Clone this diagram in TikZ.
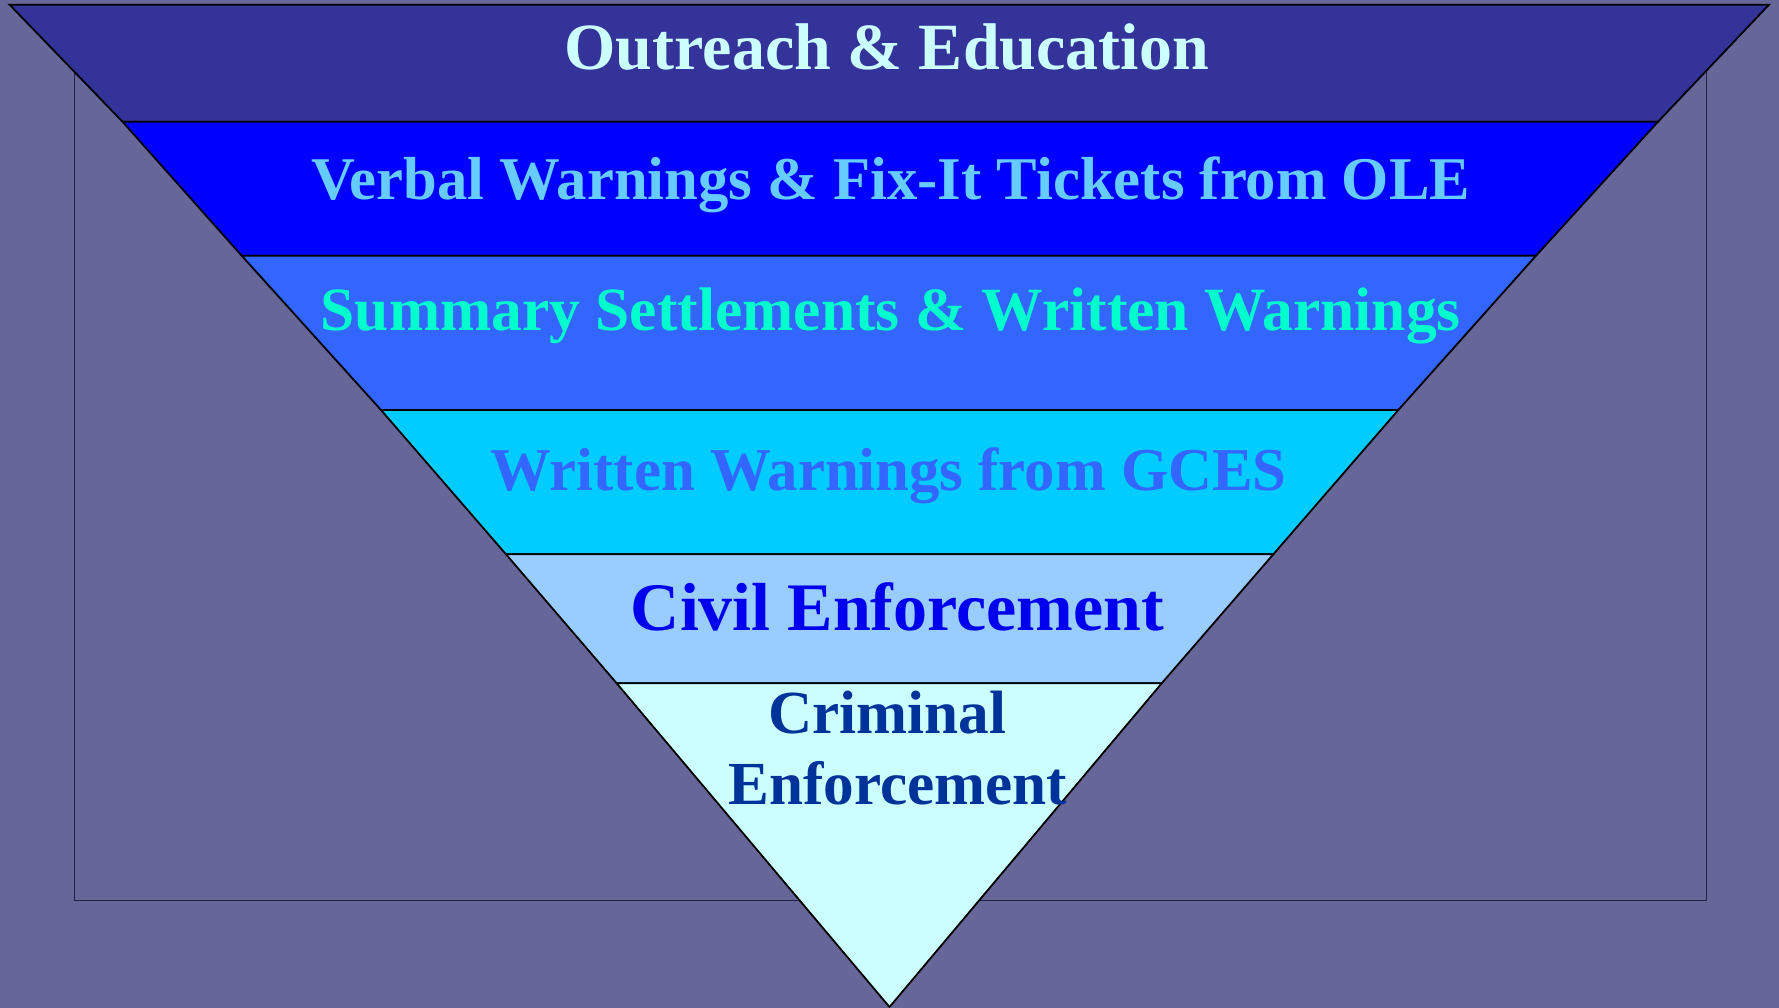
\documentclass[tikz,border=0pt]{standalone}
\usepackage{fontspec}
\setmainfont{Liberation Serif}
\definecolor{bgc}{HTML}{666699}
\definecolor{bandA}{HTML}{333399}
\definecolor{bandB}{HTML}{0000FF}
\definecolor{bandC}{HTML}{3366FF}
\definecolor{bandD}{HTML}{00CCFF}
\definecolor{bandE}{HTML}{99CCFF}
\definecolor{bandF}{HTML}{CCFFFF}
\definecolor{txtA}{HTML}{CCFFFF}
\definecolor{txtB}{HTML}{66CCFF}
\definecolor{txtC}{HTML}{00FFCC}
\definecolor{txtD}{HTML}{3366FF}
\definecolor{txtE}{HTML}{0000EE}
\definecolor{txtF}{HTML}{003399}
\definecolor{rectc}{HTML}{222244}
\tikzset{
  band/.style={draw=black, line width=1.8pt, line join=miter},
  lbl/.style={anchor=base, inner sep=0pt},
}
\begin{document}
\begin{tikzpicture}[x=1pt,y=-1pt]
\useasboundingbox (0,0) rectangle (1779,1008);
\fill[bgc] (0,0) rectangle (1779,1008);
% background frame
\draw[rectc, line width=1pt] (74,40) rectangle (1706,900);
% bands
\draw[band, fill=bandA] (9.6,4.7) -- (1769,4.7) -- (1658,121.7) -- (122.5,121.7) -- cycle;
\draw[band, fill=bandB] (122.5,121.7) -- (1658,121.7) -- (1536,255.7) -- (241.7,255.7) -- cycle;
\draw[band, fill=bandC] (241.7,255.7) -- (1536,255.7) -- (1398.3,410) -- (381,410) -- cycle;
\draw[band, fill=bandD] (381,410) -- (1398.3,410) -- (1273.3,554.3) -- (506,554.3) -- cycle;
\draw[band, fill=bandE] (506,554.3) -- (1273.3,554.3) -- (1161.7,683.3) -- (616.7,683.3) -- cycle;
\draw[band, fill=bandF] (616.7,683.3) -- (1161.7,683.3) -- (889.5,1007) -- cycle;
% labels
\node[lbl, text=txtA, font=\fontsize{66}{74}\selectfont\bfseries] (t1) at (886.7,69.5) {Outreach \& Education};
\node[lbl, text=txtB, font=\fontsize{60.7}{68}\selectfont\bfseries] (t2) at (890.7,200) {Verbal Warnings \& Fix-It Tickets from OLE};
\node[lbl, text=txtC, font=\fontsize{61.5}{68}\selectfont\bfseries] (t3) at (890.7,330) {Summary Settlements \& Written Warnings};
\node[lbl, text=txtD, font=\fontsize{60.8}{68}\selectfont\bfseries] (t4) at (888.4,490) {Written Warnings from GCES};
\node[lbl, text=txtE, font=\fontsize{68}{76}\selectfont\bfseries] (t5) at (897.5,630) {Civil Enforcement};
\node[lbl, text=txtF, font=\fontsize{61.2}{68}\selectfont\bfseries] (t6a) at (887,733) {Criminal};
\node[lbl, text=txtF, font=\fontsize{61.2}{68}\selectfont\bfseries] (t6b) at (897.6,804) {Enforcement};
\end{tikzpicture}
\end{document}
